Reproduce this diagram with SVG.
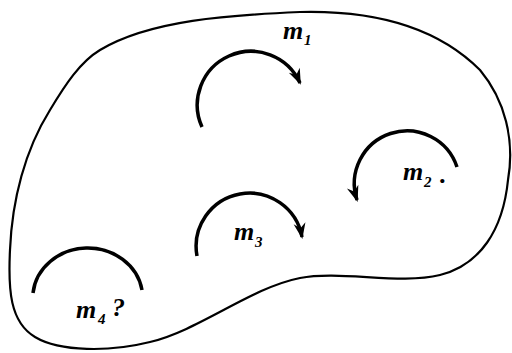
<svg xmlns="http://www.w3.org/2000/svg" width="512" height="353" viewBox="0 0 512 353">
<style>
.outline{fill:none;stroke:#000;stroke-width:2.2}
.arc{fill:none;stroke:#000;stroke-width:3.5;stroke-linecap:butt}
.lbl{font-family:"Liberation Serif",serif;font-style:italic;font-weight:bold;font-size:26px;fill:#000}
.sub{font-family:"Liberation Serif",serif;font-style:italic;font-weight:bold;font-size:15px;fill:#000}
</style>
<defs>
<marker id="ah" markerUnits="userSpaceOnUse" markerWidth="20" markerHeight="20" viewBox="-16 -8 20 16" refX="0" refY="0" orient="auto">
<path d="M2,0 L-14,-6 L-9,0 L-14,6 Z" fill="#000"/>
</marker>
</defs>
<rect width="512" height="353" fill="#fff"/>
<g id="region">
<path class="outline" d="M 100,50 C 150,20 230,15 300,12 C 380,10 440,30 480,70 C 505,100 515,140 508,180 C 503,230 480,265 440,275 C 400,285 340,270 300,278 C 250,288 200,330 150,342 C 110,352 60,352 35,337 C 10,322 8,290 10,250 C 12,200 25,150 50,110 C 65,85 80,62 100,50 Z"/>
</g>
<g id="connectors">
<path class="arc" d="M 202,127 A 53 53 0 1 1 300,83" marker-end="url(#ah)"/>
<path class="arc" d="M 457,167 A 51 51 0 0 0 357,200" marker-end="url(#ah)"/>
<path class="arc" d="M 197,256 A 53 53 0 1 1 302,237" marker-end="url(#ah)"/>
<path class="arc" d="M 33,293 A 55 50 0 0 1 142,290"/>
</g>
<g id="m1"><text class="lbl" x="283" y="39">m</text><text class="sub" x="304" y="45">1</text></g>
<g id="m2"><text class="lbl" x="403" y="180">m</text><text class="sub" x="424" y="187">2</text><text class="lbl" x="440" y="183">.</text></g>
<g id="m3"><text class="lbl" x="234" y="240">m</text><text class="sub" x="255" y="247">3</text></g>
<g id="m4"><text class="lbl" x="76" y="318">m</text><text class="sub" x="98" y="324">4</text><text class="lbl" x="112" y="316">?</text></g>
</svg>
